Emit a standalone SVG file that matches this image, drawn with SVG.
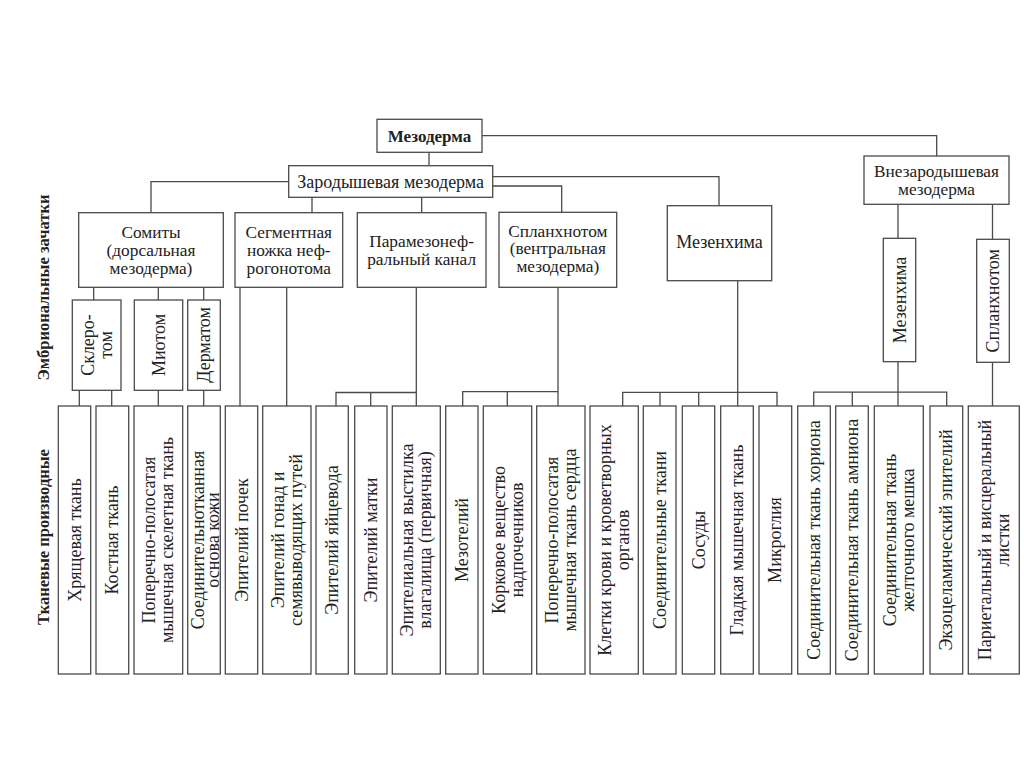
<svg xmlns="http://www.w3.org/2000/svg" width="1024" height="767" viewBox="0 0 1024 767">
<style>
.b{fill:#fff;stroke:#4a4a4a;stroke-width:1.3}
.c{fill:none;stroke:#4a4a4a;stroke-width:1.3}
.t{font-family:"Liberation Serif","DejaVu Serif",serif;font-size:18px;fill:#222;text-anchor:middle}
.m{font-size:17.3px}
.h{font-weight:bold;font-size:17px}
.l{font-family:"Liberation Serif","DejaVu Serif",serif;font-size:16.5px;font-weight:bold;fill:#222;text-anchor:middle}
</style>
<rect width="1024" height="767" fill="#fff"/>
<g id="connectors">
<path class="c" d="M429,152V165.7M482,135.7H936.7V156"/>
<path class="c" d="M288.7,181.7H151V212.7M492.7,176.7H719V205.7M492.7,186H561.7V212.3M312,197.3V212.7M421.7,197.3V212.7"/>
<path class="c" d="M898,204.3V238.3M992.5,204.3V239.3"/>
<path class="c" d="M93.7,287.3V300M158.3,287.3V300M203.7,287.3V300"/>
<path class="c" d="M79.3,390.3V406M111.7,390.3V406M158.3,390.3V406M203.7,390.3V406"/>
<path class="c" d="M240,287.3V406M286.7,287.3V406"/>
<path class="c" d="M416.3,287.3V406M336,406V392.5H416.3M370.7,392.5V406"/>
<path class="c" d="M558,287.3V406M462.7,406V391.7H558M507.3,391.7V406"/>
<path class="c" d="M737.7,280.7V406M622.7,406V392.3H777V406M660,392.3V406M698.7,392.3V406"/>
<path class="c" d="M898,361.7V406M813.7,406V392.2H946.7V406M852.3,392.2V406"/>
<path class="c" d="M992.5,362.3V406"/>
</g>
<g id="labels">
<text class="l" transform="translate(49,287.5) rotate(-90)">Эмбриональные зачатки</text>
<text class="l" transform="translate(49,537) rotate(-90)">Тканевые производные</text>
</g>
<g id="mezoderma"><rect class="b" x="377" y="119.3" width="105" height="33"/><text class="t h" x="429.5" y="141.7">Мезодерма</text></g>
<g id="zarod"><rect class="b" x="288.7" y="165.7" width="204" height="31.6"/><text class="t" x="390.7" y="188.3">Зародышевая мезодерма</text></g>
<g id="vnezarod"><rect class="b" x="864" y="156" width="145" height="48.3"/><text class="t m" x="936.5" y="176.5">Внезародышевая</text><text class="t m" x="936.5" y="195">мезодерма</text></g>
<g id="somity"><rect class="b" x="78.7" y="212.7" width="144.6" height="74.6"/><text class="t m" x="151" y="237.5">Сомиты</text><text class="t m" x="151" y="255.7">(дорсальная</text><text class="t m" x="151" y="273.8">мезодерма)</text></g>
<g id="segm"><rect class="b" x="235" y="212.7" width="107.7" height="74.6"/><text class="t m" x="288.8" y="237.5">Сегментная</text><text class="t m" x="288.8" y="255.7">ножка неф-</text><text class="t m" x="288.8" y="273.8">рогонотома</text></g>
<g id="paramez"><rect class="b" x="357.3" y="212.7" width="128.7" height="74.6"/><text class="t m" x="421.6" y="246.5">Парамезонеф-</text><text class="t m" x="421.6" y="264.9">ральный канал</text></g>
<g id="splanch"><rect class="b" x="499" y="212.3" width="117.7" height="75"/><text class="t m" x="557.8" y="236.5">Спланхнотом</text><text class="t m" x="557.8" y="254.4">(вентральная</text><text class="t m" x="557.8" y="272.3">мезодерма)</text></g>
<g id="mezench"><rect class="b" x="667.3" y="205.7" width="104.4" height="75"/><text class="t" x="719.5" y="248.3">Мезенхима</text></g>
<g id="sklerotom"><rect class="b" x="72.3" y="300" width="48.7" height="90.3"/><text class="t" transform="translate(93.5,345) rotate(-90)">Склеро-</text><text class="t" transform="translate(111.5,345) rotate(-90)">том</text></g>
<g id="miotom"><rect class="b" x="134.3" y="300" width="48.4" height="90.3"/><text class="t" transform="translate(164.5,345) rotate(-90)">Миотом</text></g>
<g id="dermatom"><rect class="b" x="187.7" y="300" width="32.6" height="90.3"/><text class="t" transform="translate(210,345) rotate(-90)">Дерматом</text></g>
<g id="mezench2"><rect class="b" x="883.3" y="238.3" width="32.4" height="123.4"/><text class="t" transform="translate(905.5,300) rotate(-90)">Мезенхима</text></g>
<g id="splanch2"><rect class="b" x="976.7" y="239.3" width="32.6" height="123"/><text class="t" transform="translate(999,300.8) rotate(-90)">Спланхнотом</text></g>
<g id="d1"><rect class="b" x="58.3" y="406" width="32.4" height="268"/><text class="t" transform="translate(80.5,540) rotate(-90)">Хрящевая ткань</text></g>
<g id="d2"><rect class="b" x="96" y="406" width="32.7" height="268"/><text class="t" transform="translate(118.3,540) rotate(-90)">Костная ткань</text></g>
<g id="d3"><rect class="b" x="134" y="406" width="48.7" height="268"/><text class="t" transform="translate(155.3,540) rotate(-90)">Поперечно-полосатая</text><text class="t" transform="translate(173.3,540) rotate(-90)">мышечная скелетная ткань</text></g>
<g id="d4"><rect class="b" x="187.7" y="406" width="32.6" height="268"/><text class="t" transform="translate(203.5,540) rotate(-90)">Соединительнотканная</text><text class="t" transform="translate(219,540) rotate(-90)">основа кожи</text></g>
<g id="d5"><rect class="b" x="225.3" y="406" width="32.4" height="268"/><text class="t" transform="translate(247.5,540) rotate(-90)">Эпителий почек</text></g>
<g id="d6"><rect class="b" x="262.7" y="406" width="48.3" height="268"/><text class="t" transform="translate(283.5,540) rotate(-90)">Эпителий гонад и</text><text class="t" transform="translate(301.5,540) rotate(-90)">семявыводящих путей</text></g>
<g id="d7"><rect class="b" x="316" y="406" width="32.3" height="268"/><text class="t" transform="translate(338,540) rotate(-90)">Эпителий яйцевода</text></g>
<g id="d8"><rect class="b" x="354.7" y="406" width="32.3" height="268"/><text class="t" transform="translate(376.8,540) rotate(-90)">Эпителий матки</text></g>
<g id="d9"><rect class="b" x="392.3" y="406" width="48" height="268"/><text class="t" transform="translate(413.3,540) rotate(-90)">Эпителиальная выстилка</text><text class="t" transform="translate(431.3,540) rotate(-90)">влагалища (первичная)</text></g>
<g id="d10"><rect class="b" x="445.7" y="406" width="32.3" height="268"/><text class="t" transform="translate(467.8,540) rotate(-90)">Мезотелий</text></g>
<g id="d11"><rect class="b" x="483.3" y="406" width="48.4" height="268"/><text class="t" transform="translate(504.5,540) rotate(-90)">Корковое вещество</text><text class="t" transform="translate(522.5,540) rotate(-90)">надпочечников</text></g>
<g id="d12"><rect class="b" x="536.7" y="406" width="48.3" height="268"/><text class="t" transform="translate(557.8,540) rotate(-90)">Поперечно-полосатая</text><text class="t" transform="translate(575.8,540) rotate(-90)">мышечная ткань сердца</text></g>
<g id="d13"><rect class="b" x="590" y="406" width="48.3" height="268"/><text class="t" transform="translate(611.2,540) rotate(-90)">Клетки крови и кроветворных</text><text class="t" transform="translate(629.2,540) rotate(-90)">органов</text></g>
<g id="d14"><rect class="b" x="643.3" y="406" width="32.7" height="268"/><text class="t" transform="translate(665.7,540) rotate(-90)">Соединительные ткани</text></g>
<g id="d15"><rect class="b" x="682.3" y="406" width="32.4" height="268"/><text class="t" transform="translate(704.5,540) rotate(-90)">Сосуды</text></g>
<g id="d16"><rect class="b" x="720.7" y="406" width="32.6" height="268"/><text class="t" transform="translate(743,540) rotate(-90)">Гладкая мышечная ткань</text></g>
<g id="d17"><rect class="b" x="759" y="406" width="32.7" height="268"/><text class="t" transform="translate(781.3,540) rotate(-90)">Микроглия</text></g>
<g id="d18"><rect class="b" x="797.7" y="406" width="32.6" height="268"/><text class="t" transform="translate(820,540) rotate(-90)">Соединительная ткань хориона</text></g>
<g id="d19"><rect class="b" x="835.7" y="406" width="32.6" height="268"/><text class="t" transform="translate(858,540) rotate(-90)">Соединительная ткань амниона</text></g>
<g id="d20"><rect class="b" x="874.3" y="406" width="49" height="268"/><text class="t" transform="translate(896,540) rotate(-90)">Соединительная ткань</text><text class="t" transform="translate(914,540) rotate(-90)">желточного мешка</text></g>
<g id="d21"><rect class="b" x="930" y="406" width="32.7" height="268"/><text class="t" transform="translate(952.3,540) rotate(-90)">Экзоцеламический эпителий</text></g>
<g id="d22"><rect class="b" x="968.3" y="406" width="51" height="268"/><text class="t" transform="translate(991,540) rotate(-90)">Париетальный и висцеральный</text><text class="t" transform="translate(1009,540) rotate(-90)">листки</text></g>
</svg>
